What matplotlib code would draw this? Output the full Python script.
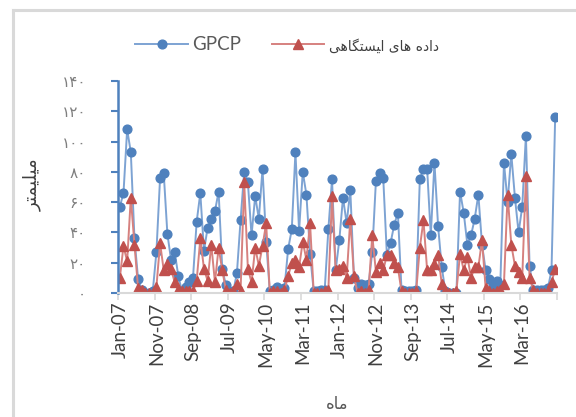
import numpy as np
import matplotlib
matplotlib.use('Agg')
import matplotlib.pyplot as plt
from matplotlib.lines import Line2D

plt.rcParams['font.family'] = ['Lato', 'DejaVu Sans']

# monthly values, Jan-07 .. Dec-16 (mm)
gpcp = [57, 66, 108, 93, 36, 9, 2, 0, 0, 1,
        27, 76, 79, 39, 22, 27, 11, 1, 4, 7,
        10, 47, 66, 28, 43, 49, 54, 67, 16, 5,
        0, 1, 13, 48, 80, 73, 38, 64, 49, 82,
        34, 1, 2, 4, 2, 3, 29, 42, 93, 41,
        80, 65, 26, 1, 1, 2, 2, 42, 75, 15,
        35, 63, 46, 68, 10, 3, 6, 5, 6, 27,
        74, 79, 76, 25, 33, 45, 53, 2, 1, 1,
        1, 2, 75, 82, 82, 38, 86, 44, 17, 1,
        0, 0, 0, 67, 53, 32, 38, 49, 65, 32,
        15, 9, 5, 8, 5, 86, 60, 92, 63, 40,
        57, 104, 18, 2, 2, 2, 2, 3, 15, 116]

station = [10, 31, 21, 63, 32, 3, 2, 0, 0, 0,
           4, 33, 15, 19, 16, 7, 2, 1, 1, 1,
           1, 8, 36, 16, 8, 32, 7, 30, 15, 2,
           0, 1, 6, 1, 73, 16, 7, 30, 18, 31,
           46, 0, 1, 1, 0, 2, 11, 20, 22, 17,
           34, 22, 46, 0, 0, 0, 1, 2, 64, 15,
           16, 18, 10, 49, 11, 0, 1, 0, 2, 38,
           14, 20, 15, 25, 25, 20, 17, 1, 0, 0,
           0, 1, 30, 48, 15, 15, 19, 25, 6, 1,
           0, 0, 1, 26, 15, 24, 10, 17, 17, 35,
           3, 1, 0, 1, 2, 6, 65, 32, 18, 14,
           10, 77, 10, 2, 0, 0, 0, 1, 7, 16]

months = ['Jan', 'Feb', 'Mar', 'Apr', 'May', 'Jun',
          'Jul', 'Aug', 'Sep', 'Oct', 'Nov', 'Dec']
cat_labels = [months[i % 12] + '-' + '%02d' % (7 + i // 12) for i in range(120)]

yticks = [0, 20, 40, 60, 80, 100, 120, 140]
ytick_labels = ['\u06f0', '\u06f2\u06f0', '\u06f4\u06f0', '\u06f6\u06f0', '\u06f8\u06f0',
                '\u06f1\u06f0\u06f0', '\u06f1\u06f2\u06f0', '\u06f1\u06f4\u06f0']

# pre-shaped persian text (visual order)
lbl_station = '\ufbfd\ufeeb\ufe8e\ufb95\ufe98\ufeb4\ufbff\ufe8d \ufbfc\ufe8e\ufeeb \ufee9\ufea9\ufe8d\ufea9'
lbl_y = '\ufeae\ufe98\ufee4\ufbff\ufee0\ufbff\ufee3'
lbl_x = '\ufee9\ufe8e\ufee3'

blue = '#4F81BD'
blue_l = '#7DA3D3'
red = '#C0504D'
red_l = '#D6817F'

fig = plt.figure(figsize=(5.76, 4.17), dpi=100)
ax = fig.add_axes([118/576, 1 - 293/417, (557 - 118)/576, (293 - 81)/417])

x = np.arange(len(gpcp))
ax.plot(x, gpcp, '-o', color=blue_l, lw=1.4, ms=6.3, mfc=blue, mec=blue, label='GPCP')
ax.plot(x, station, '-^', color=red_l, lw=1.4, ms=6.8, mfc=red, mec=red, label=lbl_station)

ax.set_xlim(-0.5, 119.5)
ax.set_ylim(0, 140)
ax.set_yticks(yticks)
ax.set_yticklabels(ytick_labels, fontsize=11, color='#7F7F7F', family=['DejaVu Sans'])

ax.set_xticks(np.arange(0, 120, 10))
ax.set_xticklabels(cat_labels[::10], rotation=90, fontsize=13.5, color='#404040')
ax.set_xticks(np.arange(-0.5, 120, 10), minor=True)
ax.tick_params(axis='x', which='major', length=0, pad=6)
ax.tick_params(axis='x', which='minor', length=5, color='#D9D9D9', width=1.2)
ax.tick_params(axis='y', length=5, color=blue, width=1.5, pad=18)

for s in ['top', 'right']:
    ax.spines[s].set_visible(False)
ax.spines['left'].set_color(blue)
ax.spines['left'].set_linewidth(1.8)
ax.spines['bottom'].set_color('#D9D9D9')
ax.spines['bottom'].set_linewidth(1.5)

fig.text(337/576, 1 - 404/417, lbl_x, ha='center', va='center',
         fontsize=12, color='#595959', family=['DejaVu Sans'])
fig.text(32/576, 1 - 185/417, lbl_y, rotation=90, ha='center', va='center',
         fontsize=13, color='#404040', family=['DejaVu Sans'])

leg = fig.legend(loc='center', bbox_to_anchor=(287/576, 1 - 45/417), ncol=2, frameon=False,
                 fontsize=13.5, handlelength=2.8, columnspacing=1.6, handletextpad=0.25)
texts = leg.get_texts()
texts[0].set_color('#595959')
texts[1].set_color('#404040')
texts[1].set_family(['DejaVu Sans'])
texts[1].set_fontsize(10)

# chart border remnants
fig.add_artist(Line2D([13/576, 13/576], [0, 1 - 10/417], color='#D9D9D9', lw=2.2))
fig.add_artist(Line2D([13/576, 1], [1 - 10/417, 1 - 10/417], color='#D9D9D9', lw=2.2))

fig.savefig('out.png', dpi=100)
